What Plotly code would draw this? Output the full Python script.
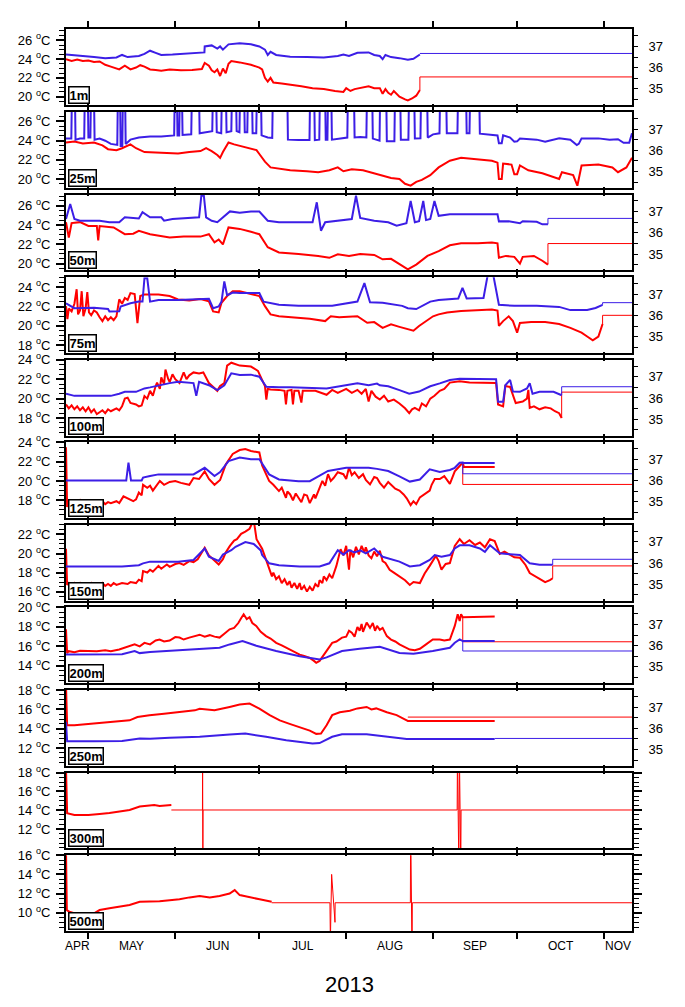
import pandas as pd
import plotly.graph_objects as go

W, H = 685, 1007
FONT = "Liberation Sans, Arial, Helvetica, sans-serif"
RED = "#ff0000"
BLUE = "#3c1ee6"
BASE = pd.Timestamp("2013-04-23")
END_DAY = 202

DEPTHS = ["1m", "25m", "50m", "75m", "100m", "125m", "150m", "200m", "250m", "300m", "500m"]
T_RANGES = [[19.08, 27.16], [19.08, 26.96], [19.3, 27.15], [17.2, 25.05], [16.2, 24.0], [16.15, 24.0],
            [15.05, 23.0], [12.2, 20.0], [10.15, 18.0], [9.95, 18.0], [8.1, 16.0]]
T_TICKS = [[20, 22, 24, 26], [20, 22, 24, 26], [20, 22, 24, 26], [18, 20, 22, 24], [18, 20, 22, 24],
           [18, 20, 22, 24], [16, 18, 20, 22], [14, 16, 18, 20], [12, 14, 16, 18], [12, 14, 16, 18],
           [10, 12, 14, 16]]
S_RANGE = [34.23, 37.8]
S_TICKS = [35, 36, 37]
MONTH_NAMES = ["APR", "MAY", "JUN", "JUL", "AUG", "SEP", "OCT", "NOV"]
YEAR_LABEL = "2013"

# ---- data: [day since 2013-04-23, value]; T = temperature (degC), S = salinity ----
T1 = [[0,24.0],[2,23.8],[4,23.95],[6,23.8],[8,23.85],[10,23.7],[12,23.75],[14,23.4],[16,23.2],[18,23.05],[19,22.9],[21,23.3],[23,22.9],[25,23.1],[26.5,23.35],[28,23.2],[30,22.9],[32,22.85],[34,22.75],[37,22.9],[41,22.8],[45,22.85],[48.5,22.95],[49.5,23.6],[51,23.3],[52,22.8],[53,22.6],[54,22.9],[55,22.2],[56,23.0],[57,22.5],[58,23.5],[59,23.8],[62,23.65],[66,23.4],[69,23.1],[70,22.9],[71,22.0],[72,21.6],[73,22.0],[74,21.5],[77,21.4],[80,21.3],[84,21.1],[88,20.9],[92,20.8],[96,20.6],[99,20.5],[100,20.9],[101.5,20.6],[103,20.8],[106,21.0],[108,21.1],[110,20.9],[112,20.9],[113,20.3],[114,20.8],[115,20.4],[116,20.2],[117,20.6],[119,20.0],[121,19.7],[122,19.6],[123.5,19.8],[125,20.1],[126.3,20.7]]
T1_TAIL = [[126.3,20.7],[126.3,22.1],[202,22.1]]
S1 = [[0,36.62],[3,36.6],[6,36.55],[10,36.5],[14,36.45],[18,36.48],[20,36.6],[22,36.5],[26,36.55],[28,36.65],[30,36.8],[32,36.7],[34,36.6],[38,36.62],[42,36.65],[46,36.7],[49.4,36.72],[49.5,37.0],[52,37.05],[54,36.9],[55,37.0],[56,36.85],[58,37.1],[62,37.15],[66,37.1],[69,37.0],[71,36.85],[72,36.6],[73,36.75],[75,36.6],[80,36.52],[86,36.5],[92,36.48],[97,36.55],[99,36.62],[101,36.55],[104,36.7],[108,36.72],[110,36.6],[112,36.55],[113,36.4],[114,36.6],[116,36.5],[119,36.45],[122,36.38],[124,36.42],[126.3,36.62]]
S1_TAIL = [[126.3,36.67],[202,36.67]]

T2 = [[0,23.8],[3,23.9],[6,23.7],[10,23.8],[13,23.5],[15,23.1],[18,23.0],[20,23.2],[23,23.6],[25,23.2],[28,22.8],[32,22.75],[36,22.7],[40,22.65],[44,22.8],[48,22.9],[50,23.2],[52,22.9],[54,22.5],[55,22.2],[56,22.8],[58,23.8],[60,23.6],[64,23.3],[68,23.0],[69,22.6],[71,21.8],[73,21.2],[76,21.1],[80,20.9],[86,20.8],[90,20.7],[94,20.9],[97,21.2],[99,20.8],[102,21.0],[106,20.9],[110,20.6],[113,20.4],[116,20.1],[119,20.0],[121,19.5],[123,19.3],[125,19.7],[127,19.9],[130,20.4],[133,21.2],[137,21.9],[141,22.2],[145,22.1],[149,22.0],[152,21.9],[154,21.7],[154.5,20.0],[155.5,20.0],[156,21.6],[159,21.5],[160,20.5],[161,20.5],[162,21.4],[165,20.9],[170,20.6],[176,20.0],[177,20.7],[181,20.4],[182.5,19.3],[184,21.4],[190,21.5],[195,21.2],[197,20.7],[200,21.2],[202,22.2]]
S2 = [[0,36.56],[1.9,36.56],[2.1,38.5],[3.2,38.5],[3.4,36.5],[5,36.55],[6.5,36.55],[6.7,38.5],[7.8,38.5],[8.0,36.6],[8.7,36.6],[8.9,38.5],[10,38.5],[10.2,36.5],[12,36.55],[14,36.45],[16,36.3],[18.3,36.25],[18.5,38.5],[19.3,38.5],[19.5,36.2],[20.1,36.2],[20.3,38.5],[21.1,38.5],[21.3,36.3],[23,36.5],[26,36.6],[30,36.65],[34,36.65],[38.6,36.7],[38.8,38.5],[39.6,38.5],[39.8,36.7],[40.4,36.7],[40.6,38.5],[41.4,38.5],[41.6,36.72],[44.7,36.75],[44.9,38.5],[47.5,38.5],[47.7,36.8],[50,36.85],[52.2,36.9],[52.4,38.5],[53.6,38.5],[53.8,36.85],[55.4,36.8],[55.6,38.5],[57.1,38.5],[57.3,36.85],[59,36.9],[59.2,38.5],[60.7,38.5],[60.9,36.9],[61.9,36.85],[62.1,38.5],[63.6,38.5],[63.8,36.85],[64.7,36.85],[64.9,38.5],[66.4,38.5],[66.6,36.8],[67.9,36.8],[68.1,38.5],[69.6,38.5],[69.8,36.7],[72,36.6],[73.6,36.58],[73.8,38.5],[79,38.5],[79.2,36.5],[83,36.48],[86.9,36.48],[87.1,38.5],[88.6,38.5],[88.8,36.48],[90.4,36.5],[90.6,38.5],[92.5,38.5],[92.7,36.5],[93.3,36.5],[93.5,38.5],[94.7,38.5],[94.9,36.5],[98,36.55],[100.4,36.6],[100.6,38.5],[102.8,38.5],[103,36.6],[105,36.62],[107.2,36.6],[107.4,38.5],[109.3,38.5],[109.5,36.55],[111.9,36.45],[112.1,38.5],[114.3,38.5],[114.5,36.42],[117.2,36.42],[117.4,38.5],[119.3,38.5],[119.5,36.5],[122.2,36.5],[122.4,38.5],[124.3,38.5],[124.5,36.55],[126.5,36.56],[126.7,38.5],[128.9,38.5],[129.1,36.6],[131,36.75],[133.3,36.8],[133.5,38.5],[135.7,38.5],[135.9,36.8],[139.7,36.8],[139.9,38.5],[142.8,38.5],[143,36.8],[144,36.8],[144.2,38.5],[147.5,38.5],[147.7,36.78],[150,36.75],[152,36.72],[154,36.7],[154.5,36.33],[155.5,36.33],[156,36.7],[158.5,36.6],[160,36.4],[161,36.42],[162,36.55],[165,36.53],[168,36.5],[171,36.4],[174,36.5],[176,36.56],[180,36.5],[182.3,36.25],[183,36.3],[184,36.56],[190,36.56],[194,36.5],[197,36.52],[199,36.35],[201,36.35],[202,36.8]]

T3 = [[0,24.3],[1,22.7],[2,24.2],[5,24.3],[8,23.9],[11,23.9],[11.5,22.4],[12,23.9],[17,23.75],[21,23.05],[24,23.1],[26,23.4],[30,23.05],[33,22.9],[37,22.7],[42,22.8],[48,22.8],[51,23.05],[53,22.2],[54.5,22.5],[56,22.0],[58,23.75],[62,23.6],[66,23.3],[69,23.05],[72,21.7],[76,21.15],[83,21.0],[90,20.8],[94,20.6],[97,20.97],[101,20.8],[105,21.0],[110,20.9],[113,20.45],[116,20.5],[119,19.93],[122,19.4],[125,19.9],[129,20.8],[133,21.3],[137,21.9],[141,22.1],[147,22.1],[152,22.2],[154,22.1],[154.5,20.6],[157,20.8],[160,20.7],[162,20.0],[163,20.7],[167,20.8],[170,20.3],[172,19.9]]
T3_TAIL = [[172,19.9],[172,22.08],[202,22.08]]
S3 = [[0,36.65],[1.5,37.36],[3,36.65],[5,36.57],[12,36.57],[15.5,36.5],[19,36.5],[21,36.73],[24,36.7],[26,36.68],[27.3,36.97],[30,36.73],[34,36.73],[35,36.57],[38,36.65],[44,36.68],[47.5,36.73],[48.3,37.75],[49.2,37.75],[50,36.73],[52,36.57],[54,36.5],[56,36.73],[58.5,37.01],[62,36.95],[66,37.0],[69,37.0],[72,36.57],[76,36.5],[84,36.5],[88,36.5],[89.5,37.44],[91,36.1],[92.5,36.5],[97,36.57],[102,36.65],[103.5,37.75],[105,36.7],[110,36.57],[115,36.5],[118,36.34],[121.5,36.45],[123,37.5],[124.5,36.5],[126,36.55],[127.5,37.5],[128.5,36.6],[130,36.65],[131.5,37.5],[133,36.8],[137,36.87],[145,36.88],[152,36.9],[154,36.87],[154.5,36.54],[158,36.55],[162,36.45],[163,36.55],[168,36.52],[170,36.4],[172,36.4]]
S3_TAIL = [[172,36.4],[172,36.68],[202,36.68]]

T4 = [[0,22.05],[0.5,20.7],[1,21.8],[2,21.5],[3,22.3],[3.8,23.8],[4.3,21.2],[5,21.6],[5.6,23.6],[6.2,21.0],[7,21.8],[7.6,23.5],[8.2,21.4],[9,21.1],[10,21.6],[11,21.4],[12,20.9],[13,20.5],[14,21.0],[15,20.6],[16,20.9],[17,20.6],[18,21.0],[19,22.75],[20,22.3],[21,22.9],[22,22.7],[23,23.4],[24.5,23.3],[25.5,20.3],[26.5,23.1],[28,23.25],[33,23.25],[37,23.1],[40,22.75],[44,22.65],[48,22.8],[51,22.55],[52.5,21.5],[54.5,21.4],[55.5,22.4],[57.5,23.1],[59.5,23.6],[62,23.6],[66,23.3],[69,23.1],[71,22.05],[73,21.2],[76,21.0],[83,20.85],[87,20.75],[92.5,20.5],[94.5,21.0],[97.5,20.9],[104,21.0],[107.5,20.33],[110,20.4],[113,19.8],[116,20.16],[119,19.9],[124,19.5],[126,20.0],[131,21.0],[133,21.2],[136,21.4],[141,21.55],[147,21.6],[152,21.7],[154,21.6],[154.5,20.0],[156,20.5],[158,21.0],[159.5,20.5],[161,19.3],[162,20.3],[166,20.4],[171,20.4],[176,20.2],[180,19.8],[184,19.3],[186,18.9],[188,18.5],[190,18.9],[191.5,20.2]]
T4_TAIL = [[191.5,20.2],[191.5,21.1],[202,21.1]]
S4 = [[0,36.57],[3,36.34],[10,36.36],[15,36.3],[15.5,36.18],[19,36.2],[19.5,36.42],[23,36.57],[26,36.65],[27.3,36.65],[28,37.75],[29,37.75],[30,36.65],[33,36.73],[40,36.73],[48,36.75],[51,36.78],[52.5,36.34],[54.5,36.42],[55.5,36.65],[56.5,37.6],[57.5,36.95],[59.5,37.08],[62,37.05],[69,37.05],[70.5,36.65],[76,36.5],[83,36.45],[95,36.45],[104,36.65],[106.5,37.52],[108.5,36.62],[113,36.6],[120,36.45],[122,36.34],[125,36.3],[130,36.65],[133,36.73],[140,36.8],[141.5,37.3],[143,36.8],[149,36.82],[150.5,37.9],[152.5,37.9],[154,36.8],[154.5,36.5],[160,36.45],[168,36.45],[176,36.4],[180,36.25],[186,36.25],[189,36.35],[191.5,36.5]]
S4_TAIL = [[191.5,36.5],[191.5,36.6],[202,36.6]]

T5 = [[0,19.4],[1,19.0],[2,19.3],[3,18.9],[4,19.2],[5,18.8],[6,19.1],[7,18.7],[8,19.1],[9,18.6],[10,18.9],[11,18.4],[12,18.6],[13,18.8],[14,18.5],[15,18.9],[16,18.7],[18,19.0],[19,18.8],[20,19.2],[21,20.0],[22,20.1],[23,19.55],[25,19.4],[26,19.2],[27,19.3],[28,20.26],[29,20.0],[30,20.8],[31,20.3],[32,21.3],[32.5,21.65],[33.5,21.0],[34,22.2],[35,21.5],[35.5,23.0],[36.5,22.0],[37,21.7],[38,22.5],[39,22.0],[40.5,21.6],[42,22.7],[43,22.0],[44,22.4],[45.5,22.7],[47.5,22.6],[49,22.7],[51,21.6],[54,20.8],[55,21.3],[56.5,21.6],[57.5,23.4],[59,23.7],[62,23.4],[66,23.3],[68.5,22.86],[71,21.3],[71.5,19.9],[72,21.0],[73,20.95],[76,20.9],[78,20.8],[78.5,19.4],[79,20.8],[80.5,20.9],[81,19.4],[81.5,20.8],[83,20.8],[84,19.6],[84.5,20.8],[89,20.8],[93,20.4],[95,20.9],[97,20.6],[100,21.0],[102,20.6],[104,20.9],[105.5,20.5],[107,21.0],[108,19.7],[109,20.8],[110.5,20.2],[112,19.9],[113.5,20.3],[115,19.7],[117,19.9],[119,19.5],[121,19.0],[122.5,18.5],[123.5,18.9],[124.5,19.05],[126,18.8],[127,19.5],[128.5,19.2],[130,20.0],[131.5,20.3],[133.4,20.8],[135,21.0],[137,21.65],[140.5,21.8],[144,21.65],[148,21.65],[151,21.65],[153.5,21.6],[154.2,19.4],[156,19.2],[156.8,21.3],[158.5,21.2],[160.5,19.55],[163,19.7],[164.5,20.0],[165,20.9],[165.5,19.05],[167,19.2],[169,18.9],[171,19.1],[173,19.0],[174.5,18.7],[176,18.5],[176.9,18.0]]
T5_TAIL = [[176.9,18.0],[176.9,20.67],[202,20.67]]
S5 = [[0,36.2],[3,36.1],[10,36.1],[16,36.1],[19,36.2],[21,36.29],[25,36.29],[28,36.45],[30,36.5],[33,36.6],[37,36.7],[40,36.76],[44,36.7],[45.5,36.7],[46.5,36.1],[47.5,36.76],[51,36.6],[54,36.37],[56.5,36.6],[59,37.16],[62,37.08],[66,37.1],[69,37.0],[71.5,36.53],[76,36.5],[80,36.5],[93,36.45],[104,36.69],[108,36.6],[111,36.68],[112,36.6],[115,36.55],[119,36.37],[122.5,36.2],[126,36.3],[130,36.55],[133.4,36.69],[137,36.85],[140.5,36.9],[148,36.9],[153.5,36.88],[154.2,35.82],[156,35.82],[156.8,36.6],[158.5,36.85],[159.5,36.3],[162,36.29],[164.5,36.45],[165.5,36.69],[166.5,36.2],[169,36.29],[174,36.29],[176.9,36.13]]
S5_TAIL = [[176.9,36.13],[176.9,36.53],[202,36.53]]

T6 = [[0,23.5],[0.4,17.3],[1,17.9],[2,17.5],[3,17.9],[4,17.6],[5,18.0],[6,17.5],[7,17.8],[8,17.6],[9,17.9],[10,17.5],[11,17.8],[12,17.6],[13,17.9],[14,17.6],[15,17.8],[16,17.7],[18,17.9],[19,17.7],[20.5,18.4],[22,18.2],[24,17.9],[25,18.1],[26,18.8],[27,18.5],[27.5,19.6],[29,19.3],[30,19.5],[31,19.0],[33.5,20.0],[35,19.6],[37,19.9],[39,20.0],[41,19.8],[44,19.6],[45.5,20.3],[47.5,20.2],[49.5,21.0],[51,20.2],[53,19.6],[55,20.1],[57,21.7],[59.5,22.8],[62,23.2],[64,23.3],[66,23.1],[69,22.95],[70,21.6],[72.5,20.0],[74,19.6],[76,18.95],[77,19.3],[78.5,18.25],[79,18.9],[80,18.6],[81,18.0],[82,18.7],[83,18.3],[84,17.8],[85,18.6],[86,18.5],[87,17.7],[88,18.4],[88.5,18.6],[89,18.2],[90,18.9],[91.5,20.0],[92.5,19.5],[93.5,20.7],[94.5,20.0],[95.5,20.3],[97,20.9],[99,20.7],[100,20.2],[101,21.4],[102,20.6],[103,20.9],[104.5,20.3],[106,20.7],[107,20.1],[108.5,19.64],[110,20.4],[111,20.3],[112,19.8],[113.5,19.3],[115,19.9],[116,19.6],[117.5,19.2],[119,19.0],[120.5,18.6],[121.6,18.2],[123,17.5],[124,17.9],[125,17.6],[126.3,18.3],[128,18.6],[129.8,19.0],[130.5,19.6],[131.6,20.2],[133.4,20.2],[135,20.5],[137,19.7],[138.75,21.0],[140.5,21.55],[141.6,21.9],[142,21.45],[153,21.45]]
T6_TAIL = [[141.6,21.9],[141.6,19.64],[202,19.64]]
S6 = [[0,36.0],[5,36.0],[10,36.0],[15,36.0],[21.5,36.0],[22.3,36.84],[23.2,36.0],[27,36.0],[27.5,36.14],[30,36.21],[33,36.29],[40,36.29],[45.5,36.29],[49.5,36.6],[53,36.21],[55,36.4],[58,36.92],[62,37.08],[66,37.0],[69,37.0],[72.5,36.29],[76,36.05],[83,35.97],[87,35.97],[93.5,36.45],[100,36.6],[108,36.6],[111,36.55],[115,36.45],[119,36.2],[122.7,35.95],[126.3,36.05],[129.8,36.53],[133.4,36.4],[137,36.5],[138.75,36.6],[140.5,36.84],[141.6,36.85],[142,36.83],[153,36.83]]
S6_TAIL = [[141.6,36.85],[141.6,36.32],[202,36.32]]

T7 = [[0,20.5],[0.4,16.7],[1,16.9],[2,16.5],[3,16.9],[4,16.6],[5,16.9],[6,16.5],[7,16.8],[8,16.6],[9,16.9],[10,16.5],[11,16.8],[12,16.6],[13,16.9],[14,16.6],[15,16.8],[16,16.6],[17,16.9],[18,16.7],[20,16.9],[22,16.8],[23,17.0],[25,16.9],[26,17.25],[27,17.1],[27.5,18.15],[29,18.0],[30,18.3],[31,18.1],[33,18.7],[34,18.4],[36,18.85],[37,18.6],[39,18.9],[40.5,19.0],[42,18.8],[44,19.2],[45.5,19.1],[47,19.4],[49.5,20.6],[51,19.8],[52.5,19.4],[54.5,18.85],[56,19.4],[57,20.1],[58.5,20.8],[60,21.36],[61,21.5],[62.5,22.07],[64,22.3],[65.5,22.6],[67,23.5],[68,21.5],[70,20.5],[72.5,18.3],[73.5,17.6],[74,18.0],[75,17.3],[76,17.6],[77,16.9],[78,17.3],[79,16.7],[79.8,17.1],[80.5,16.4],[81.5,16.9],[82.5,16.3],[83.4,16.9],[84,16.2],[85,16.6],[86,16.0],[87,16.5],[88,16.1],[89,16.8],[90,16.5],[90.5,17.2],[91.5,16.9],[92,17.6],[93,17.2],[94,17.8],[95,17.4],[96.5,18.7],[98,20.45],[99,19.8],[100,20.8],[101,18.3],[101.5,20.4],[102.5,19.6],[103.5,20.7],[104.5,19.9],[105.5,20.8],[106.5,20.1],[107,20.65],[108,19.8],[109,19.5],[110,20.2],[111,19.7],[112,20.3],[113,19.2],[114,19.0],[115.5,18.3],[117,18.0],[119,17.6],[121,17.2],[122.7,16.7],[124,17.0],[126.3,16.9],[128,17.9],[129.8,18.7],[131,19.3],[132,19.75],[133,19.2],[134,18.3],[135.5,18.9],[137,19.0],[138.75,20.8],[140.5,21.5],[142,21.0],[144,21.4],[146,20.9],[147.7,21.15],[149.5,20.65],[151.3,21.5],[153,21.3],[154.8,19.95],[156.5,20.2],[158.4,19.9],[160,19.6],[162,19.55],[164,18.8],[165.5,17.95],[167,17.7],[169,17.4],[171,17.0],[172.7,17.2],[173.7,17.4]]
T7_TAIL = [[173.7,17.4],[173.7,18.7],[202,18.7]]
S7 = [[0,35.84],[10,35.84],[20,35.84],[26,35.9],[27.5,35.99],[30,36.07],[40,36.07],[45.5,36.15],[49.5,36.69],[51,36.3],[54.5,36.1],[56,36.4],[59,36.61],[60.5,36.77],[64,36.99],[67,36.9],[69.5,36.6],[70,36.38],[72.5,35.99],[76,35.9],[83.4,35.84],[90.5,35.84],[94,35.99],[97,36.61],[99,36.4],[101,36.61],[103,36.5],[105,36.6],[107,36.46],[110,36.69],[113,36.3],[119,36.07],[122.7,35.84],[126.3,35.9],[129.8,36.15],[131.6,36.38],[134,36.3],[137,36.38],[138.75,36.69],[140.5,36.84],[144,36.84],[147.7,36.69],[149.5,36.53],[151.3,36.84],[154.8,36.46],[158.4,36.42],[162,36.38],[165.5,35.99],[169,35.92],[173.7,35.92]]
S7_TAIL = [[173.7,35.92],[173.7,36.18],[202,36.18]]

T8 = [[0,17.75],[0.4,15.3],[1,15.5],[3,15.4],[5,15.55],[8,15.5],[11,15.5],[14,15.6],[16,15.5],[19,15.67],[22.7,16.0],[24.5,16.2],[26.3,16.0],[28,16.36],[30,16.2],[32,16.6],[33.4,16.7],[35,16.5],[37,16.6],[39,16.95],[40.5,16.9],[42,16.7],[44,16.9],[46,17.1],[47.7,17.2],[49.5,17.0],[51.3,17.15],[53,17.0],[54.8,16.9],[56.5,17.3],[58.4,17.75],[60,17.9],[61.5,18.4],[62.5,18.9],[63.4,19.3],[64.5,18.8],[65.5,19.0],[66.5,18.4],[67.9,18.1],[69.5,17.5],[71.4,17.05],[73,16.8],[75,16.36],[77,16.1],[78.6,15.85],[81,15.5],[83.4,15.15],[85,15.0],[87,14.8],[88.5,14.5],[89.3,14.3],[90.5,14.5],[92,15.1],[93,15.5],[94,15.9],[95,16.36],[96.5,16.5],[98.5,16.9],[100,17.0],[101,17.6],[102,17.4],[103,17.0],[104,18.0],[104.8,17.6],[105.5,18.3],[106,17.5],[107.3,18.45],[108.5,17.9],[109.5,18.4],[110.3,17.6],[111,18.1],[112,17.7],[113,17.9],[114.5,17.05],[116,16.7],[117.5,16.5],[119,16.2],[121,15.9],[122.7,15.67],[124.5,15.6],[126.3,15.75],[128.5,16.2],[130.9,16.7],[133.4,16.7],[135,16.6],[137,16.7],[138.75,18.1],[139.8,19.3],[140.5,18.6],[141,19.3],[141.6,19.0],[153,19.07]]
T8_TAIL = [[141.6,19.0],[141.6,16.47],[202,16.47]]
S8 = [[0,35.58],[10,35.58],[20,35.6],[24.5,35.75],[26.3,35.65],[30,35.7],[37,35.75],[47.7,35.85],[54.8,35.9],[58.4,36.06],[63,36.22],[67.9,36.0],[75,35.75],[83.4,35.5],[90.5,35.35],[93,35.45],[98.5,35.75],[104.8,35.85],[109.5,35.9],[112,35.95],[119,35.66],[124,35.62],[130.9,35.75],[133.4,35.82],[137,35.9],[138.75,36.14],[140.5,36.3],[141.6,36.22],[153,36.22]]
S8_TAIL = [[141.6,36.22],[141.6,35.75],[202,35.75]]

T9 = [[0,18.5],[0.4,14.35],[3,14.35],[8.4,14.5],[15.5,14.7],[22.7,14.86],[25.5,15.2],[29.8,15.4],[35,15.55],[40.5,15.73],[46,15.9],[47.7,16.07],[53,15.9],[58.4,16.25],[62,16.5],[65.5,16.6],[69,16.07],[72.7,15.4],[76.3,14.86],[79.8,14.5],[83.4,14.16],[87,13.8],[89.3,13.46],[91,13.5],[93,14.35],[95,15.4],[97.7,15.7],[101.3,15.85],[104,16.1],[107.3,16.25],[109,16.0],[110.7,16.1],[114.5,15.7],[118,15.4],[121.6,14.86],[122,14.8],[153,14.8]]
T9_TAIL = [[122,15.2],[202,15.2]]
S9 = [[0,36.3],[0.4,35.39],[10,35.39],[20,35.4],[26.3,35.52],[30,35.5],[37,35.55],[47.7,35.6],[58.4,35.7],[64,35.75],[71.4,35.6],[78.6,35.44],[88,35.28],[90.5,35.3],[95,35.6],[98.5,35.72],[107.3,35.72],[114.5,35.6],[121.6,35.49],[124,35.49],[153,35.49]]
S9_TAIL = [[153,35.52],[202,35.52]]

T10 = [[0,18.5],[0.4,13.7],[3,13.5],[8,13.5],[12,13.6],[15.5,13.7],[22.7,14.03],[26.3,14.4],[29.8,14.5],[31.5,14.55],[33.4,14.45],[37,14.55],[37.6,14.55]]
T10_TAIL = [[37.6,14.03],[48.7,14.03],[48.75,20],[48.85,8],[48.9,14.03],[139.6,14.03],[139.7,20],[140.2,8],[140.4,20],[140.9,8],[141,14.03],[202,14.03]]

T11 = [[0,16.5],[0.3,10.28],[1.2,10.1],[4.8,9.76],[6.6,9.6],[8.4,9.65],[10.2,9.93],[12,10.28],[15.5,10.46],[19.1,10.6],[22.7,10.8],[26.3,11.15],[29.8,11.15],[33.4,11.2],[37,11.3],[40.5,11.4],[44.1,11.6],[47.7,11.74],[51.3,11.6],[54.8,11.74],[58.4,12.0],[60.2,12.36],[62,11.84],[65.5,11.6],[69.1,11.4],[73.4,11.15]]
T11_TAIL = [[73.4,11.04],[94.2,11.04],[94.35,7.0],[94.8,14.0],[96.0,9.0],[96.05,11.04],[122.9,11.04],[123.0,20],[123.5,5],[123.6,11.04],[202,11.04]]

PANELS = [
    (T1, T1_TAIL, S1, S1_TAIL), (T2, None, S2, None), (T3, T3_TAIL, S3, S3_TAIL),
    (T4, T4_TAIL, S4, S4_TAIL), (T5, T5_TAIL, S5, S5_TAIL), (T6, T6_TAIL, S6, S6_TAIL),
    (T7, T7_TAIL, S7, S7_TAIL), (T8, T8_TAIL, S8, S8_TAIL), (T9, T9_TAIL, S9, S9_TAIL),
    (T10, T10_TAIL, None, None), (T11, T11_TAIL, None, None),
]


def to_xy(pairs):
    xs = [BASE + pd.Timedelta(days=float(p[0])) for p in pairs]
    ys = [p[1] for p in pairs]
    return xs, ys


fig = go.Figure()
X0, X1 = 66 / W, 632 / W
END = BASE + pd.Timedelta(days=END_DAY)
month_starts = pd.date_range("2013-04-01", "2013-12-01", freq="MS")
tick_months = [m for m in month_starts if BASE <= m <= END]

layout = {}
annotations = []
for k, (T, TT, S, ST) in enumerate(PANELS):
    top = 20.7 + 83.4 * k
    bot = top + 76.5
    dom = [1 - bot / H, 1 - top / H]
    xid = "" if k == 0 else str(k + 1)
    yl = 2 * k + 1
    yr = 2 * k + 2
    ylid = "" if yl == 1 else str(yl)
    xref, ylref, yrref = "x" + xid, "y" + ylid, "y" + str(yr)

    layout["xaxis" + xid] = dict(
        domain=[X0, X1], anchor=ylref, type="date", range=[BASE, END],
        tickvals=tick_months, showticklabels=False, ticks="outside", ticklen=6,
        tickwidth=1.5, tickcolor="black", showline=True, linewidth=2, linecolor="black",
        mirror="allticks", showgrid=False, zeroline=False)
    has_s = S is not None
    layout["yaxis" + ylid] = dict(
        domain=dom, anchor=xref, range=T_RANGES[k], tickmode="array", tickvals=T_TICKS[k],
        ticktext=[f"{v} <sup>o</sup>C" for v in T_TICKS[k]], ticks="outside", ticklen=8,
        tickwidth=1.5, tickcolor="black", showline=True, linewidth=2, linecolor="black",
        mirror=True if has_s else "allticks", showgrid=False, zeroline=False,
        tickfont=dict(family=FONT, size=13, color="black"), ticklabelstandoff=3,
        minor=dict(tickmode="linear", tick0=0, dtick=0.5, ticks="outside", ticklen=5,
                   tickwidth=1.2, tickcolor="black", showgrid=False))
    if has_s:
        layout["yaxis" + str(yr)] = dict(
            overlaying=ylref, side="right", anchor=xref, range=S_RANGE, tickmode="array",
            tickvals=S_TICKS, ticks="outside", ticklen=5, tickwidth=1.3, tickcolor="black",
            showline=False, showgrid=False, zeroline=False, ticklabelstandoff=8,
            tickfont=dict(family=FONT, size=13, color="black"),
            minor=dict(tickmode="linear", tick0=0, dtick=0.5, ticks="outside", ticklen=5,
                       tickwidth=1.3, tickcolor="black", showgrid=False))

    x, y = to_xy(T)
    fig.add_trace(go.Scatter(x=x, y=y, xaxis=xref, yaxis=ylref, mode="lines",
                             line=dict(color=RED, width=2.0), showlegend=False, hoverinfo="skip"))
    if TT is not None:
        x, y = to_xy(TT)
        fig.add_trace(go.Scatter(x=x, y=y, xaxis=xref, yaxis=ylref, mode="lines",
                                 line=dict(color=RED, width=1.0), showlegend=False, hoverinfo="skip"))
    if has_s:
        x, y = to_xy(S)
        fig.add_trace(go.Scatter(x=x, y=y, xaxis=xref, yaxis=yrref, mode="lines",
                                 line=dict(color=BLUE, width=2.0), showlegend=False, hoverinfo="skip"))
        if ST is not None:
            x, y = to_xy(ST)
            fig.add_trace(go.Scatter(x=x, y=y, xaxis=xref, yaxis=yrref, mode="lines",
                                     line=dict(color=BLUE, width=1.0), showlegend=False, hoverinfo="skip"))

    annotations.append(dict(
        text=f"<b>{DEPTHS[k]}</b>", xref=xref + " domain", yref=ylref + " domain",
        x=0.004, y=0.012, xanchor="left", yanchor="bottom", showarrow=False,
        bgcolor="white", bordercolor="black", borderwidth=1.5, borderpad=0,
        font=dict(family=FONT, size=13, color="black")))

for i, name in enumerate(MONTH_NAMES):
    s = max(month_starts[i], BASE)
    e = min(month_starts[i + 1], END)
    mid = s + (e - s) / 2
    annotations.append(dict(text=name, x=mid, xref="x11", y=1 - 946 / H, yref="paper",
                            showarrow=False, xanchor="center", yanchor="middle",
                            font=dict(family=FONT, size=12, color="black")))
annotations.append(dict(text=YEAR_LABEL, x=(X0 + X1) / 2, xref="paper", y=1 - 985 / H, yref="paper",
                        showarrow=False, xanchor="center", yanchor="middle",
                        font=dict(family=FONT, size=22, color="black")))

fig.update_layout(
    width=W, height=H, margin=dict(l=0, r=0, t=0, b=0),
    paper_bgcolor="white", plot_bgcolor="white", annotations=annotations,
    font=dict(family=FONT, color="black"), **layout)

fig.write_html("out.html")
